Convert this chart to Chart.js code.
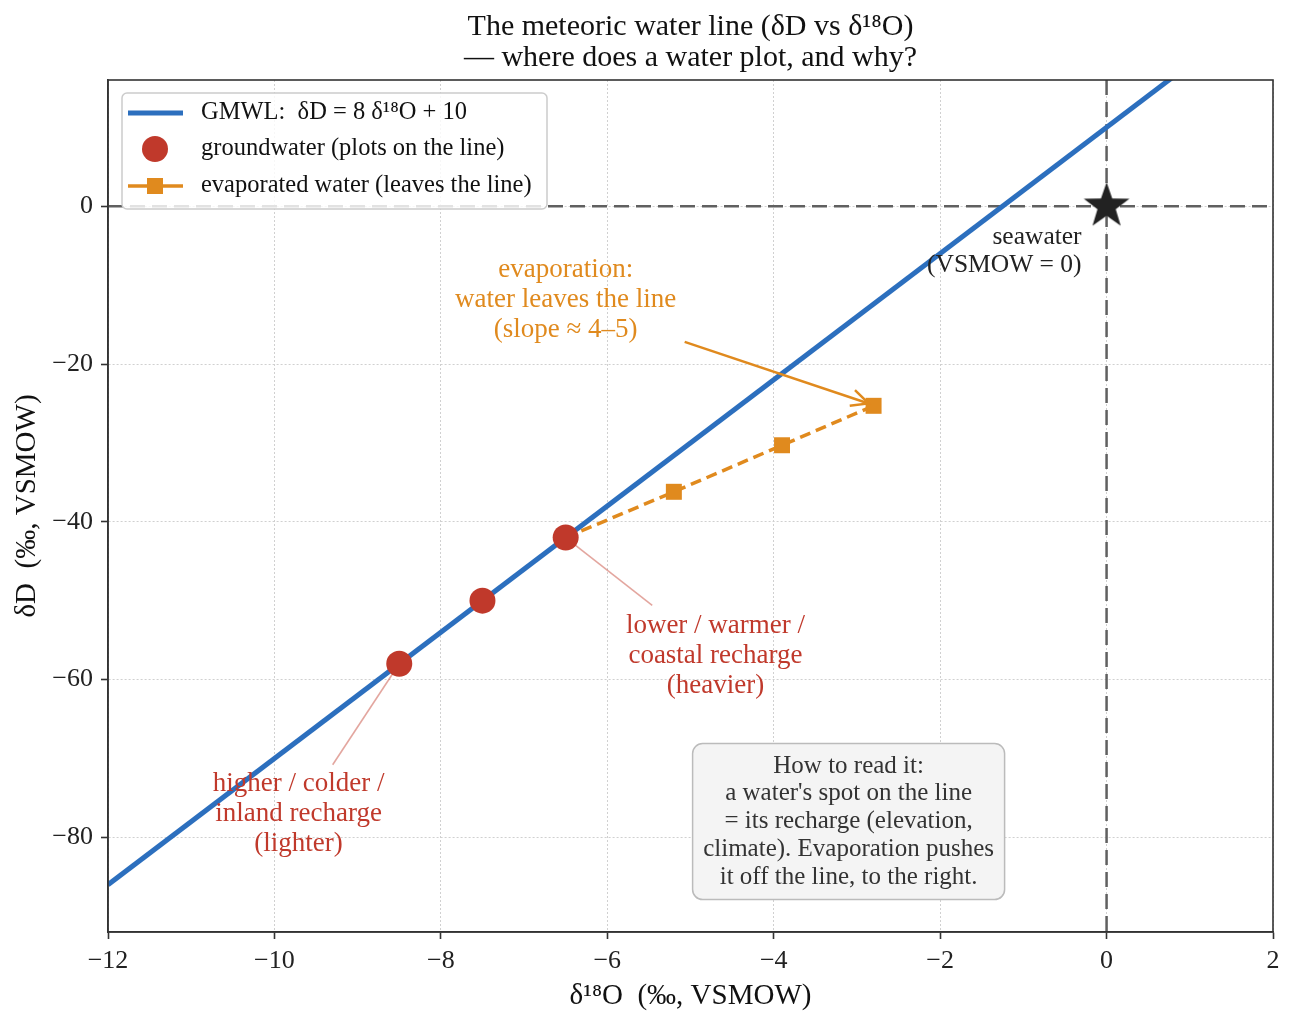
<!DOCTYPE html>
<html>
<head>
<meta charset="utf-8">
<script src="https://cdn.jsdelivr.net/npm/chart.js@4.4.1/dist/chart.umd.min.js"></script>
<style>
  html, body { margin: 0; padding: 0; background: #fff; }
  canvas { display: block; }
</style>
</head>
<body>
<canvas id="mwlChart" width="1296" height="1026"></canvas>
<script>
// data
const gmwlO = [-12, 2];            // endpoints of the GMWL, clipped by the axes
const gmwlD = [-86, 26];
const groundO = [-8.5, -7.5, -6.5];
const groundD = [-58, -50, -42];
const evapO = [-6.5, -5.2, -3.9, -2.8];
const evapD = [-42, -36.2, -30.3, -25.3];
const seaO = [0];
const seaD = [0];
const xTicks = [-12, -10, -8, -6, -4, -2, 0, 2];
const yTicks = [-80, -60, -40, -20, 0];

const BLUE = '#2c6fbe';
const RED = '#c0392b';
const ORANGE = '#e08a1e';
const SERIF = '"Liberation Serif", "DejaVu Serif", serif';
const TITLE = ['The meteoric water line (\u03b4D vs \u03b4\u00b9\u2078O)', '\u2014 where does a water plot, and why?'];

function toPoints(xs, ys) {
	return xs.map((x, i) => ({ x: x, y: ys[i] }));
}

function minus(v) {
	return String(v).replace('-', '\u2212');
}

//filled star used as the seawater marker, centred on its own middle
function makeStar(size, color) {
	const c = document.createElement('canvas');
	c.width = size;
	c.height = size;
	const g = c.getContext('2d');
	const cx = size / 2, cy = size / 2;
	const ro = 24, ri = ro * 0.4;
	g.beginPath();
	for (let i = 0; i < 10; i++) {
		const r = (i % 2 === 0) ? ro : ri;
		const a = -Math.PI / 2 + i * Math.PI / 5;
		g.lineTo(cx + r * Math.cos(a), cy + r * Math.sin(a));
	}
	g.closePath();
	g.fillStyle = color;
	g.fill();
	return c;
}

function roundRect(ctx, x, y, w, h, r) {
	ctx.beginPath();
	ctx.moveTo(x + r, y);
	ctx.arcTo(x + w, y, x + w, y + h, r);
	ctx.arcTo(x + w, y + h, x, y + h, r);
	ctx.arcTo(x, y + h, x, y, r);
	ctx.arcTo(x, y, x + w, y, r);
	ctx.closePath();
}

function drawLines(ctx, lines, x, yMid, lh, align, color, size) {
	ctx.save();
	ctx.font = size + 'px ' + SERIF;
	ctx.fillStyle = color;
	ctx.textAlign = align;
	ctx.textBaseline = 'middle';
	const y0 = yMid - (lines.length - 1) * lh / 2;
	lines.forEach((t, i) => ctx.fillText(t, x, y0 + i * lh));
	ctx.restore();
}

function line(ctx, x1, y1, x2, y2, color, width, dash) {
	ctx.save();
	ctx.strokeStyle = color;
	ctx.lineWidth = width;
	ctx.setLineDash(dash || []);
	ctx.beginPath();
	ctx.moveTo(x1, y1);
	ctx.lineTo(x2, y2);
	ctx.stroke();
	ctx.restore();
}

//title, reference lines, annotations, frame and the in-plot legend
const overlay = {
	id: 'overlay',
	beforeDatasetsDraw(chart) {
		const ctx = chart.ctx;
		const a = chart.chartArea;
		const xs = chart.scales.x, ys = chart.scales.y;

		// title centred over the plot area
		drawLines(ctx, TITLE, (a.left + a.right) / 2, a.top - 37.5, 31, 'center', '#111', 30);

		ctx.save();
		ctx.beginPath();
		ctx.rect(a.left, a.top, a.right - a.left, a.bottom - a.top);
		ctx.clip();
		const x0 = xs.getPixelForValue(0), y0 = ys.getPixelForValue(0);
		line(ctx, a.left, y0, a.right, y0, '#606060', 2.5, [15, 7]);
		line(ctx, x0, a.top, x0, a.bottom, '#606060', 2.5, [15, 7]);

		// connectors from the labels to the groundwater points
		const pink = 'rgba(192, 57, 43, 0.45)';
		line(ctx, xs.getPixelForValue(-5.46), ys.getPixelForValue(-50.6),
			xs.getPixelForValue(-6.5), ys.getPixelForValue(-42), pink, 1.6);
		line(ctx, xs.getPixelForValue(-9.3), ys.getPixelForValue(-70.8),
			xs.getPixelForValue(-8.5), ys.getPixelForValue(-58), pink, 1.6);
		ctx.restore();
	},
	afterDatasetsDraw(chart) {
		const ctx = chart.ctx;
		const a = chart.chartArea;
		const xs = chart.scales.x, ys = chart.scales.y;
		const px = v => xs.getPixelForValue(v);
		const py = v => ys.getPixelForValue(v);

		// evaporation arrow
		const sx = px(-5.07), sy = py(-17.2), ex = px(-2.86), ey = py(-25.0);
		line(ctx, sx, sy, ex, ey, ORANGE, 2.5);
		const ang = Math.atan2(ey - sy, ex - sx);
		const hl = 19, hw = 0.45;
		ctx.save();
		ctx.strokeStyle = ORANGE;
		ctx.lineWidth = 2.5;
		ctx.beginPath();
		ctx.moveTo(ex - hl * Math.cos(ang - hw), ey - hl * Math.sin(ang - hw));
		ctx.lineTo(ex, ey);
		ctx.lineTo(ex - hl * Math.cos(ang + hw), ey - hl * Math.sin(ang + hw));
		ctx.stroke();
		ctx.restore();

		drawLines(ctx, ['evaporation:', 'water leaves the line', '(slope \u2248 4\u20135)'],
			px(-6.5), py(-11.9), 30, 'center', ORANGE, 27);
		drawLines(ctx, ['seawater', '(VSMOW = 0)'],
			px(-0.3), py(-5.7), 28, 'right', '#222', 25.5);
		drawLines(ctx, ['lower / warmer /', 'coastal recharge', '(heavier)'],
			px(-4.7), py(-57.0), 30, 'center', RED, 27);
		drawLines(ctx, ['higher / colder /', 'inland recharge', '(lighter)'],
			px(-9.71), py(-77.0), 30, 'center', RED, 27);

		// "how to read it" box
		const bx = px(-3.1), by = py(-78.0);
		ctx.save();
		roundRect(ctx, bx - 156, by - 78, 312, 156, 10);
		ctx.fillStyle = '#f4f4f4';
		ctx.fill();
		ctx.strokeStyle = '#bbbbbb';
		ctx.lineWidth = 1.5;
		ctx.stroke();
		ctx.restore();
		drawLines(ctx, ['How to read it:', "a water's spot on the line", '= its recharge (elevation,',
			'climate). Evaporation pushes', 'it off the line, to the right.'],
			bx, by, 27.7, 'center', '#333', 25);

		// frame
		ctx.save();
		ctx.strokeStyle = '#333';
		ctx.lineWidth = 1.6;
		ctx.strokeRect(a.left, a.top, a.right - a.left, a.bottom - a.top);
		ctx.restore();

		// legend
		const lx = a.left + 14, ly = a.top + 13;
		ctx.save();
		roundRect(ctx, lx, ly, 425, 116, 5);
		ctx.fillStyle = 'rgba(255, 255, 255, 0.82)';
		ctx.fill();
		ctx.strokeStyle = '#cccccc';
		ctx.lineWidth = 1.5;
		ctx.stroke();
		ctx.restore();
		const rows = [ly + 20, ly + 56, ly + 93];
		line(ctx, lx + 6, rows[0], lx + 61, rows[0], BLUE, 5);
		ctx.save();
		ctx.fillStyle = RED;
		ctx.beginPath();
		ctx.arc(lx + 33, rows[1], 13, 0, Math.PI * 2);
		ctx.fill();
		ctx.restore();
		line(ctx, lx + 6, rows[2], lx + 61, rows[2], ORANGE, 3.5);
		ctx.save();
		ctx.fillStyle = ORANGE;
		ctx.fillRect(lx + 25, rows[2] - 8, 16, 16);
		ctx.restore();
		const labels = ['GMWL:  \u03b4D = 8 \u03b4\u00b9\u2078O + 10', 'groundwater (plots on the line)',
			'evaporated water (leaves the line)'];
		labels.forEach((t, i) => drawLines(ctx, [t], lx + 79, rows[i], 0, 'left', '#111', 24.5));
	}
};

const ctx = document.getElementById('mwlChart').getContext('2d');

new Chart(ctx, {
	type: 'scatter',
	data: {
		datasets: [
			{
				label: 'seawater',
				data: toPoints(seaO, seaD),
				pointStyle: makeStar(52, '#222'),
				order: 0,
			},
			{
				label: 'groundwater (plots on the line)',
				data: toPoints(groundO, groundD),
				backgroundColor: RED,
				borderWidth: 0,
				pointRadius: 13,
				pointHoverRadius: 13,
				order: 1,
			},
			{
				label: 'evaporated water (leaves the line)',
				type: 'line',
				data: toPoints(evapO, evapD),
				borderColor: ORANGE,
				backgroundColor: ORANGE,
				borderWidth: 3.5,
				borderDash: [11, 6],
				pointStyle: 'rect',
				pointRadius: 11.3,
				pointBorderWidth: 0,
				fill: false,
				order: 2,
			},
			{
				label: 'GMWL',
				type: 'line',
				data: toPoints(gmwlO, gmwlD),
				borderColor: BLUE,
				borderWidth: 5,
				pointRadius: 0,
				fill: false,
				clip: 0,
				order: 3,
			},
		],
	},
	options: {
		responsive: false,
		devicePixelRatio: 1,
		animation: false,
		events: [],
		layout: {
			padding: { left: 0, right: 23, top: 80, bottom: 0 },
		},
		plugins: {
			legend: { display: false },
			tooltip: { enabled: false },
			title: { display: false },
		},
		scales: {
			x: {
				type: 'linear',
				min: -12,
				max: 2,
				afterFit: (scale) => { scale.height = 94; },
				afterBuildTicks: (scale) => { scale.ticks = xTicks.map(v => ({ value: v })); },
				ticks: {
					callback: (v) => minus(v),
					color: '#222',
					font: { family: SERIF, size: 26 },
					padding: 7,
					maxRotation: 0,
				},
				grid: {
					color: '#d0d0d0',
					lineWidth: 1,
					tickColor: '#333',
					tickLength: 7,
					tickWidth: 1.6,
					tickBorderDash: [],
				},
				border: { display: true, color: '#333', width: 1.6, dash: [2, 2] },
				title: {
					display: true,
					text: '\u03b4\u00b9\u2078O  (\u2030, VSMOW)',
					color: '#111',
					font: { family: SERIF, size: 29 },
					padding: { top: 0, bottom: 12 },
				},
			},
			y: {
				type: 'linear',
				min: -92,
				max: 16,
				afterFit: (scale) => { scale.width = 108; },
				afterBuildTicks: (scale) => { scale.ticks = yTicks.map(v => ({ value: v })); },
				ticks: {
					callback: (v) => minus(v),
					color: '#222',
					font: { family: SERIF, size: 26 },
					padding: 8,
				},
				grid: {
					color: '#d0d0d0',
					lineWidth: 1,
					tickColor: '#333',
					tickLength: 7,
					tickWidth: 1.6,
					tickBorderDash: [],
				},
				border: { display: true, color: '#333', width: 1.6, dash: [2, 2] },
				title: {
					display: true,
					text: '\u03b4D  (\u2030, VSMOW)',
					color: '#111',
					font: { family: SERIF, size: 29 },
					padding: { top: 10, bottom: 0 },
				},
			},
		},
	},
	plugins: [overlay],
});
</script>
</body>
</html>
